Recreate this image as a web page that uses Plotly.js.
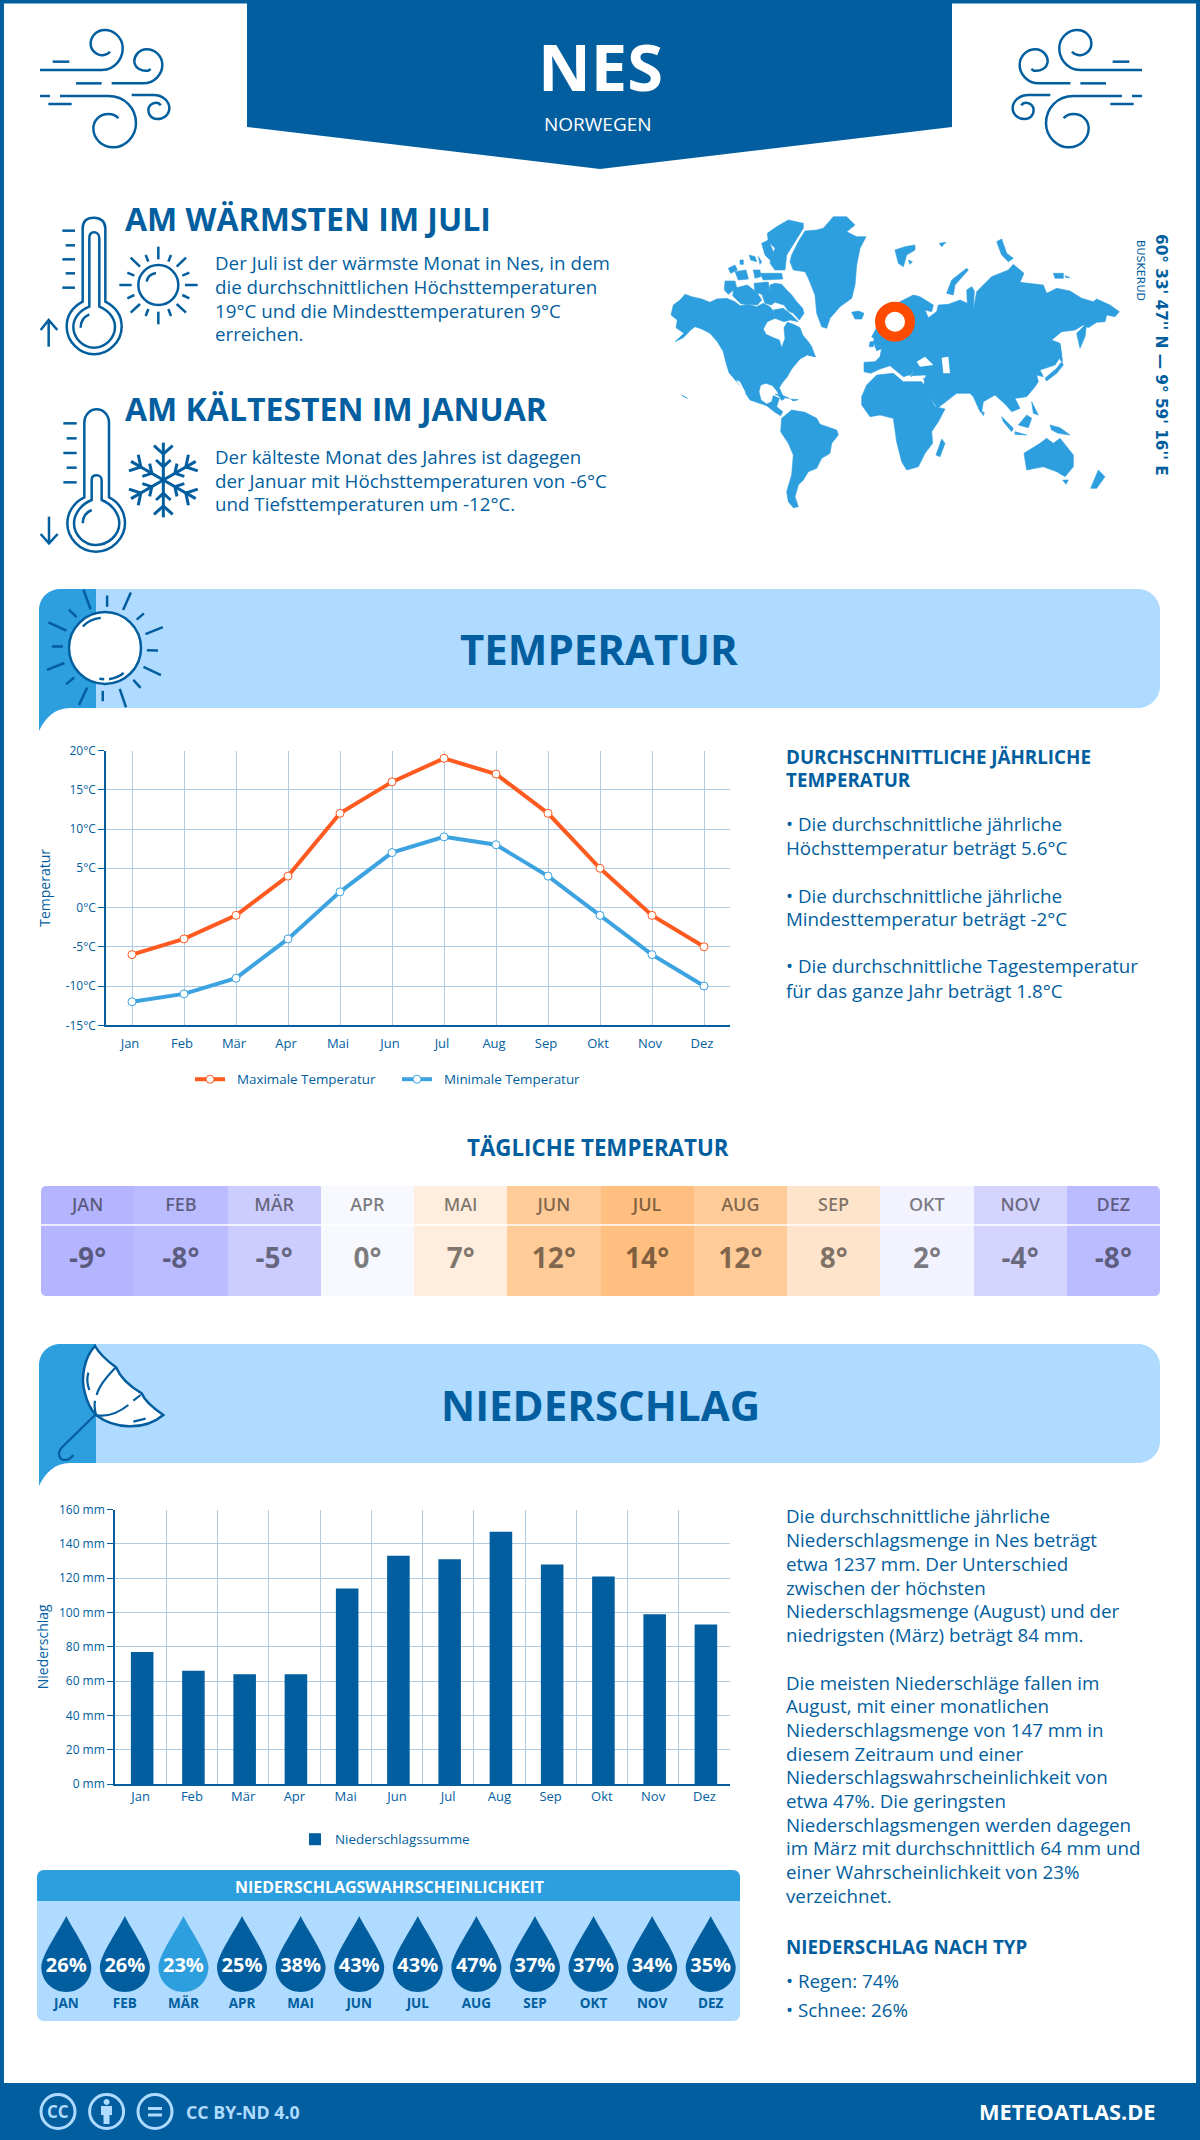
<!DOCTYPE html>
<html lang="de"><head><meta charset="utf-8"><title>Nes</title>
<script src="https://cdn.plot.ly/plotly-3.0.1.min.js"></script>
<style>html,body{margin:0;padding:0;background:#fff}#g{width:1200px;height:2140px}</style></head>
<body><div id="g"></div>
<script>
// ---------- data ----------
const months=['Jan','Feb','Mär','Apr','Mai','Jun','Jul','Aug','Sep','Okt','Nov','Dez'];
const monthCaps=['JAN','FEB','MÄR','APR','MAI','JUN','JUL','AUG','SEP','OKT','NOV','DEZ'];
const tempMax=[-6,-4,-1,4,12,16,19,17,12,5,-1,-5];
const tempMin=[-12,-11,-9,-4,2,7,9,8,4,-1,-6,-10];
const tempTicks=[20,15,10,5,0,-5,-10,-15];
const tempTickText=['20°C','15°C','10°C','5°C','0°C','-5°C','-10°C','-15°C'];
const dailyTemp=[-9,-8,-5,0,7,12,14,12,8,2,-4,-8];
const dailyStops=[-9,-8,-5,-4,0,2,7,8,12,14];
const dailyColors=['#b5b5ff','#bbbbff','#ccccff','#d4d4ff','#f8f9ff','#f3f3ff','#ffeedd','#ffe4cc','#ffcc99','#ffbf80'];
const precip=[77,66,64,64,114,133,131,147,128,121,99,93];
const precipTicks=[0,20,40,60,80,100,120,140,160];
const precipTickText=['0 mm','20 mm','40 mm','60 mm','80 mm','100 mm','120 mm','140 mm','160 mm'];
const rainProb=[26,26,23,25,38,43,43,47,37,37,34,35];

const warmText=['Der Juli ist der wärmste Monat in Nes, in dem','die durchschnittlichen Höchsttemperaturen','19°C und die Mindesttemperaturen 9°C','erreichen.'];
const coldText=['Der kälteste Monat des Jahres ist dagegen','der Januar mit Höchsttemperaturen von -6°C','und Tiefsttemperaturen um -12°C.'];
const tempInfo=['• Die durchschnittliche jährliche','Höchsttemperatur beträgt 5.6°C','• Die durchschnittliche jährliche','Mindesttemperatur beträgt -2°C','• Die durchschnittliche Tagestemperatur','für das ganze Jahr beträgt 1.8°C'];
const rainInfo1=['Die durchschnittliche jährliche','Niederschlagsmenge in Nes beträgt','etwa 1237 mm. Der Unterschied','zwischen der höchsten','Niederschlagsmenge (August) und der','niedrigsten (März) beträgt 84 mm.'];
const rainInfo2=['Die meisten Niederschläge fallen im','August, mit einer monatlichen','Niederschlagsmenge von 147 mm in','diesem Zeitraum und einer','Niederschlagswahrscheinlichkeit von','etwa 47%. Die geringsten','Niederschlagsmengen werden dagegen','im März mit durchschnittlich 64 mm und','einer Wahrscheinlichkeit von 23%','verzeichnet.'];

// ---------- style + helpers ----------
const W=1200,H=2140,NAVY='#025e9e',SKY='#2d9ede',PALE='#aedbff',ORANGE='#ff5a1f',FONT='"Open Sans", sans-serif';
const BODY=18.75;
const fx=x=>x/W, fy=y=>1-y/H;
const xf=(p,ox=0,sx=1,oy=0,sy=sx)=>p.replace(/(-?[\d.]+)[ ,]+(-?[\d.]+)/g,(m,a,b)=>`${fx(ox+a*sx).toFixed(5)},${fy(oy+b*sy).toFixed(5)}`);
const shapes=[],notes=[];
function S(path,o={}){shapes.push({type:'path',xref:'paper',yref:'paper',path:path,fillcolor:o.fill||'rgba(0,0,0,0)',
  line:{color:o.color||NAVY,width:o.width===undefined?(o.fill?0:2.5):o.width},layer:o.layer||'below'});}
function T(text,x,y,o={}){notes.push({xref:'paper',yref:'paper',x:fx(x),y:fy(y),text:text,showarrow:false,borderpad:0,
  xanchor:o.anchor||'left',yanchor:'middle',textangle:o.angle||0,
  font:{family:o.family||FONT,size:o.size||18,color:o.color||NAVY,weight:o.weight||400}});}
const circ=(x,y,r)=>{const k=r*.5523;return `M${x-r},${y} C${x-r},${y-k} ${x-k},${y-r} ${x},${y-r} C${x+k},${y-r} ${x+r},${y-k} ${x+r},${y} C${x+r},${y+k} ${x+k},${y+r} ${x},${y+r} C${x-k},${y+r} ${x-r},${y+k} ${x-r},${y} Z`;};
const poly=s=>'M'+s.trim().split(/\s+/).join(' L')+' Z';

// ---------- frame + header ----------
S(xf('M0,0 L1200,0 L1200,2140 L1196,2140 L1196,3.5 L4,3.5 L4,2140 L0,2140 Z'),{fill:NAVY});
S(xf('M247,0 L952,0 L952,127 L600,169 L247,127 Z'),{fill:NAVY});
S(xf('M0,2083 L1200,2083 L1200,2140 L0,2140 Z'),{fill:NAVY});
T('NES',600,66,{anchor:'center',size:65,weight:700,color:'#fff'});
T('NORWEGEN',598,124,{anchor:'center',size:19,color:'#fff'});

// wind icons
const wind=['M30,150 L215,150 C260,150 280,110 278,80 C275,50 250,30 225,30 C195,30 180,55 182,75 C185,95 205,110 222,105 C232,103 238,98 240,95',
'M68,125 L118,125','M138,190 L215,190','M245,190 L340,190 C375,190 397,160 397,135 C397,105 372,88 350,88 C325,88 312,110 313,125 C315,145 335,155 355,152 L362,147',
'M30,228 L60,228','M90,228 L235,228 C285,228 318,265 318,310 C318,350 285,382 250,382 C215,382 190,355 190,325 C190,300 210,282 235,282 C250,282 260,288 265,295',
'M55,252 L125,252','M305,225 L370,225 C400,225 418,245 418,265 C418,285 400,297 382,297 C365,297 355,285 355,270 C355,258 365,248 378,248 C385,248 390,252 392,256'];
wind.forEach(p=>{S(xf(p,30,1/3,20,1/3));S(xf(p,1182-30,-1/3,20,1/3));});

// warm block
T('AM WÄRMSTEN IM JULI',124,218.5,{size:32,weight:700});
warmText.forEach((t,i)=>T(t,214,262.5+i*23.8,{size:BODY}));
const z10=p=>xf(p,30,1/3,205,1/3);
['M158,290 L158,70 C158,48 172,38 192,38 C212,38 226,50 226,70 L226,290 C255,305 275,330 275,365 C275,410 235,448 192,448 C150,448 110,410 110,365 C110,330 130,305 158,290 Z',
'M178,305 L178,100 C178,85 185,82 192,82 C200,82 208,88 208,100 L208,305 C235,315 255,340 255,365 C255,400 225,428 192,428 C160,428 130,400 130,365 C130,340 150,315 178,305 Z',
'M152,368 C152,350 162,335 178,328','M97,77 L135,77','M107,121 L135,121','M97,163 L135,163','M107,205 L135,205','M97,248 L135,248',
'M56,425 L56,345','M32,375 L56,345 L82,375',
'M385,125 L385,163','M385,320 L385,358','M268,240 L305,240','M465,240 L503,240','M302,158 L330,185','M468,158 L440,185','M302,323 L330,297','M468,323 L440,297',
'M347,150 L355,170','M423,150 L415,170','M292,203 L313,212','M478,203 L457,212','M292,280 L313,270','M478,280 L457,270','M347,333 L355,312','M423,333 L415,312',
'M350,230 C352,215 362,207 378,204'].forEach(p=>S(z10(p)));
S(z10(circ(385,240,60)));

// cold block
T('AM KÄLTESTEN IM JANUAR',124,408.5,{size:32,weight:700});
coldText.forEach((t,i)=>T(t,214,456.5+i*23.7,{size:BODY}));
const z11=p=>xf(p,30,1/3,400,1/3);
['M163,292 L163,68 C163,45 180,28 200,28 C220,28 237,45 237,68 L237,292 C265,305 285,335 285,370 C285,415 245,455 198,455 C150,455 112,415 112,370 C112,335 135,305 163,292 Z',
'M185,300 L185,240 C185,230 192,226 200,226 C208,226 215,232 215,240 L215,300 C245,312 268,340 268,370 C268,405 235,435 198,435 C162,435 132,405 132,370 C132,340 155,312 185,300 Z',
'M158,370 C158,350 168,337 185,330','M100,70 L140,70','M110,115 L140,115','M100,159 L140,159','M110,203 L140,203','M100,247 L140,247',
'M57,350 L57,430','M32,402 L57,430 L83,402'].forEach(p=>S(z11(p)));
[0,60,120,180,240,300].forEach(deg=>{const a=deg*Math.PI/180,c=Math.cos(a),s=Math.sin(a);
  const r=(x,y)=>`${(400+x*c-y*s).toFixed(1)},${(240+x*s+y*c).toFixed(1)}`;
  S(z11(`M${r(0,0)} L${r(0,-112)}`),{width:3});
  S(z11(`M${r(-28,-103)} L${r(0,-78)} L${r(28,-103)}`),{width:3});
  S(z11(`M${r(-22,-60)} L${r(0,-40)} L${r(22,-60)}`),{width:3});
});

// ---------- world map (pictogram) ----------
const map7=[
'35,322 40,300 60,285 75,268 95,275 125,282 150,292 170,282 200,280 225,290 240,302 262,298 290,305 310,295 330,305 340,318 345,340 322,350 310,372 318,388 340,398 358,405 365,428 375,400 372,368 382,352 400,358 420,368 428,390 445,410 455,425 466,455 442,450 420,462 405,480 395,492 382,515 368,532 358,548 365,565 373,582 364,586 352,560 338,542 318,535 302,540 297,560 303,585 320,597 335,590 340,572 358,580 350,605 368,620 362,632 345,622 320,602 290,592 270,585 250,555 228,528 207,503 197,470 190,440 172,410 150,385 125,372 105,365 92,375 70,398 45,410 72,385 48,368 52,345 33,330',
'330,240 345,235 365,238 380,255 395,270 410,290 428,310 432,325 418,345 400,325 385,318 372,300 355,295 340,290 328,270',
'340,315 370,310 395,330 415,350 390,345 372,350 345,340',
'322,85 350,65 385,45 430,55 430,70 405,110 380,150 375,195 345,195 330,175 345,130 325,110',
'305,115 325,105 340,140 335,170 315,150','195,228 225,228 230,248 205,268 193,255','222,250 262,240 290,262 305,285 292,300 242,296 218,272',
'282,235 322,232 322,262 305,268 285,262','310,232 325,232 330,270 345,290 335,300 315,295 305,265','205,190 225,180 232,195 212,205','225,200 258,195 265,222 235,225','280,195 300,195 302,215 285,220','300,205 365,205 368,222 310,225',
'268,150 285,155 290,170 272,165','295,155 305,170 300,178','240,165 250,165 250,178 240,178',
'395,150 415,110 435,78 470,75 490,70 520,35 560,35 585,60 560,80 590,95 618,95 600,130 590,180 585,240 575,280 540,305 510,340 500,370 485,365 470,325 465,270 445,220 435,200 400,195 390,170',
'575,322 595,318 612,325 605,342 585,342','345,568 365,570 388,580 370,578','392,582 415,584 400,588','445,432 466,455 448,450',
'365,640 395,615 435,622 470,640 480,658 530,675 535,690 515,715 510,745 485,760 470,790 445,800 430,825 415,840 405,875 415,905 400,908 385,890 380,860 395,810 400,750 385,715 362,680',
'648,385 668,430 650,437 640,410','630,410 642,410 640,425 628,425','65,570 82,580 72,575'];
map7.forEach(p=>S(xf(poly(p),660,1/3,205,1/3),{fill:SKY,color:SKY,width:.6}));
const map8=[
// Eurasia
'100,270 120,275 160,300 155,320 135,315 145,338 170,320 175,300 205,298 240,285 262,295 260,255 275,245 283,258 280,315 290,260 310,240 335,215 385,195 400,178 432,205 420,232 490,240 500,265 530,250 570,258 605,280 640,290 650,282 690,300 718,320 705,335 680,330 675,350 650,352 625,368 610,360 585,375 545,380 515,405 540,415 545,450 525,480 480,495 490,515 470,510 475,530 465,545 440,575 405,580 420,610 395,620 378,600 345,570 310,590 305,622 300,620 280,575 270,565 230,565 172,610 130,545 138,510 92,512 100,495 95,515 60,485 88,510 70,515 30,482 0,492 -28,505 -48,500 -48,472 -15,470 0,455 5,430 -5,410 -25,395 0,350 40,300',
// Africa
'-55,575 -40,540 -10,510 40,505 70,530 125,530 135,545 165,605 195,612 175,650 155,680 158,715 135,745 115,785 80,795 65,770 50,710 40,640 0,630 -30,635 -55,600',
'185,702 195,715 180,755 168,750','432,745 480,715 500,700 520,715 540,700 580,750 580,785 555,815 530,800 490,785 440,795','548,825 565,825 558,838','655,795 675,815 650,850 632,850',
'510,660 540,668 570,690 535,685 515,675','415,660 440,630 455,640 445,668','365,635 400,670 395,680 370,650','405,680 440,690 405,688','455,590 475,630 460,625','495,520 530,490 545,470 550,480 530,505 500,528',
'540,420 548,470 540,465','620,355 590,385 600,430 615,395','303,620 313,622 310,632','200,265 215,225 260,190 265,195 225,240 220,270','45,135 75,125 105,120 105,135 80,150 70,185 55,175',
'178,115 198,112 185,125','350,110 365,102 380,145 400,160 385,170 365,150','520,205 550,205 550,220 525,220','555,212 570,218 558,218','85,165 97,170 90,178','130,520 140,520 135,530'];
map8.forEach(p=>S(xf(poly(p),880,1/3,205,1/3),{fill:SKY,color:SKY,width:.6}));
['110,470 135,455 160,480 120,485','185,458 205,455 210,505 190,505'].forEach(p=>S(xf(poly(p),880,1/3,205,1/3),{fill:'#fff'}));
S(xf('M228,525 L240,530 L258,565 L250,560 Z',660,1/3,205,1/3),{fill:'#fff'});
S(xf(circ(895,321.7,15)),{color:'#ff4b00',width:10,fill:'#fff'});
T("60° 33' 47'' N — 9° 59' 16'' E",1161,355,{anchor:'center',size:15.3,weight:700,angle:90,family:'"DejaVu Sans", sans-serif'});
T('BUSKERUD',1140,270,{anchor:'center',size:11,angle:90,family:'"DejaVu Sans", sans-serif'});

// ---------- section banners ----------
function banner(t){
  S(xf(`M96,${t} L1138,${t} C1150,${t} 1160,${t+10} 1160,${t+22} L1160,${t+97} C1160,${t+109} 1150,${t+119} 1138,${t+119} L96,${t+119} Z`),{fill:PALE});
  S(xf(`M39,${t+142} L39,${t+22} C39,${t+8} 49,${t} 61,${t} L96,${t} L96,${t+119} L70,${t+119} C55,${t+119} 45,${t+129} 39,${t+142} Z`),{fill:SKY});
}
banner(589);banner(1344);
T('TEMPERATUR',599,648,{anchor:'center',size:42,weight:700});
T('NIEDERSCHLAG',600,1404,{anchor:'center',size:42,weight:700});
const z2=p=>xf(p,0,.4847,580,.3444);
S(xf(circ(105,648,36)),{fill:'#fff',color:NAVY,width:2.5});
['M172,28 L187,85','M221,45 L221,78','M270,36 L254,87','M297,97 L282,115','M336,137 L300,157','M303,204 L326,205','M296,252 L332,276','M275,290 L290,313','M247,316 L260,370','M212,322 L212,352','M180,312 L163,363','M153,283 L136,303','M133,241 L97,261','M130,193 L107,193','M137,147 L100,123','M158,108 L142,86',
'M171,135 C180,120 195,112 208,110','M205,287 L215,288','M225,288 C238,285 248,280 255,270'].forEach(p=>S(z2(p)));
const z12=p=>xf(p,30,1/3,1340,1/3);
S(z12('M195,18 C165,50 150,110 165,160 C172,190 185,212 198,225 C250,265 340,275 400,225 C370,205 345,185 335,160 C300,140 270,110 258,82 C235,65 210,45 195,18 Z'),{fill:'#fff',color:NAVY,width:2.5});
['M258,82 C225,115 205,145 200,165','M195,182 C192,195 195,212 198,225','M198,225 C235,232 270,215 295,195','M310,182 L332,165','M310,245 L347,236','M175,98 C170,115 172,135 178,150','M195,225 L100,318 C80,335 85,360 105,360 C115,360 125,352 130,345'].forEach(p=>S(z12(p),{width:2.2}));

// ---------- right-hand text ----------
T('DURCHSCHNITTLICHE JÄHRLICHE',785,757,{size:18.8,weight:700});
T('TEMPERATUR',785,780,{size:18.8,weight:700});
tempInfo.forEach((t,i)=>T(t,785,[824,847.5,895,919,966,990][i],{size:BODY}));
rainInfo1.forEach((t,i)=>T(t,785,1516+i*23.7,{size:BODY}));
rainInfo2.forEach((t,i)=>T(t,785,1682+i*23.7,{size:BODY}));
T('NIEDERSCHLAG NACH TYP',785,1947,{size:18.8,weight:700});
T('• Regen: 74%',785,1980,{size:BODY});
T('• Schnee: 26%',785,2009,{size:BODY});

// ---------- daily table + probability panel ----------
T('TÄGLICHE TEMPERATUR',598,1147,{anchor:'center',size:22.3,weight:700});
S(xf('M41,1225 L1160,1225'),{color:'#fff',width:1.5,layer:'above'});
[['M41,1186 L47,1186 C43,1186 41,1188 41,1192 Z'],['M1160,1186 L1154,1186 C1158,1186 1160,1188 1160,1192 Z'],['M41,1296 L47,1296 C43,1296 41,1294 41,1290 Z'],['M1160,1296 L1154,1296 C1158,1296 1160,1294 1160,1290 Z']].forEach(p=>S(xf(p[0]),{fill:'#fff',layer:'above'}));
S(xf('M37,1901 L37,1877 C37,1873 40,1870 44,1870 L733,1870 C737,1870 740,1873 740,1877 L740,1901 Z'),{fill:SKY});
S(xf('M37,1901 L740,1901 L740,2014 C740,2018 737,2021 733,2021 L44,2021 C40,2021 37,2018 37,2014 Z'),{fill:PALE});
T('NIEDERSCHLAGSWAHRSCHEINLICHKEIT',389,1887,{anchor:'center',size:16,weight:700,color:'#fff'});
const lowest=Math.min(...rainProb);
rainProb.forEach((p,i)=>shapes.push({type:'path',xref:'x4',yref:'y4',xsizemode:'pixel',ysizemode:'pixel',xanchor:monthCaps[i],yanchor:.45,layer:'between',
  path:'M0,51 C5,40 25,12 25,0 C25,-14 14,-25 0,-25 C-14,-25 -25,-14 -25,0 C-25,12 -5,40 0,51 Z',fillcolor:p===lowest?SKY:NAVY,line:{width:0}}));

// ---------- footer ----------
[58,106.6,155].forEach(x=>S(xf(circ(x,2111.5,17)),{color:PALE,width:3}));
T('CC',58,2111.5,{anchor:'center',size:17,weight:700,color:PALE});
S(xf(circ(106.6,2102,3)),{fill:PALE});
S(xf('M101,2106 L112,2106 L112,2115 L109.5,2115 L109.5,2124 L103.5,2124 L103.5,2115 L101,2115 Z'),{fill:PALE});
S(xf('M148,2107 L162,2107 L162,2110 L148,2110 Z M148,2113.5 L162,2113.5 L162,2116.5 L148,2116.5 Z'),{fill:PALE});
T('CC BY-ND 4.0',185,2111.5,{size:17.8,weight:700,color:PALE});
T('METEOATLAS.DE',1157,2111.5,{anchor:'right',size:21.8,weight:700,color:'#fff'});

// ---------- traces ----------
const tickFont={family:FONT,size:12,color:NAVY};
const monthFont={family:FONT,size:13,color:NAVY};
const mk=(name,vals,col,leg)=>({type:'scatter',mode:'lines+markers',name:'\u00a0\u00a0'+name,x:months,y:vals,xaxis:'x',yaxis:'y',legend:leg,
  line:{color:col,width:4},marker:{size:8,color:'#fff',line:{color:col,width:1}},hoverinfo:'x+y'});
const data=[
 mk('Maximale Temperatur',tempMax,ORANGE,'legend'),
 mk('Minimale Temperatur',tempMin,'#3ca3e0','legend3'),
 {type:'bar',name:'Niederschlagssumme',x:months,y:precip,xaxis:'x2',yaxis:'y2',legend:'legend2',width:.44,offset:-.19,marker:{color:NAVY}},
 {type:'heatmap',x:monthCaps,y:[.5],z:[dailyTemp],xaxis:'x3',yaxis:'y3',zmin:-9,zmax:14,showscale:false,hoverinfo:'skip',
  colorscale:dailyStops.map((v,i)=>[(v+9)/23,dailyColors[i]])},
 {type:'scatter',mode:'text',x:monthCaps,y:monthCaps.map(()=>.818),text:monthCaps,xaxis:'x3',yaxis:'y3',showlegend:false,hoverinfo:'skip',
  textposition:'middle center',textfont:{family:FONT,size:18,weight:600,color:'rgba(0,0,0,.5)'}},
 {type:'scatter',mode:'text',x:monthCaps,y:monthCaps.map(()=>.318),text:dailyTemp.map(v=>v+'°'),xaxis:'x3',yaxis:'y3',showlegend:false,hoverinfo:'skip',
  textposition:'middle center',textfont:{family:FONT,size:28,weight:700,color:'rgba(0,0,0,.5)'}},
 {type:'scatter',mode:'text',x:monthCaps,y:monthCaps.map(()=>.45),text:rainProb.map(v=>v+'%'),xaxis:'x4',yaxis:'y4',showlegend:false,hoverinfo:'skip',
  textposition:'middle center',textfont:{family:FONT,size:20,weight:700,color:'#fff'}},
 {type:'scatter',mode:'text',x:monthCaps,y:monthCaps.map(()=>.133),text:monthCaps,xaxis:'x4',yaxis:'y4',showlegend:false,hoverinfo:'skip',
  textposition:'middle center',textfont:{family:FONT,size:13.5,weight:700,color:NAVY}}
];
const GRID='#aecbe2';
const hidden=(l,r)=>({domain:[fx(l),fx(r)],visible:false,type:'category',range:[-.5,11.5],fixedrange:true});
const hiddenY=(t,b)=>({domain:[fy(b),fy(t)],visible:false,range:[0,1],fixedrange:true});
const legendBase=(x,y)=>({orientation:'h',xref:'paper',yref:'paper',x:fx(x),y:fy(y),xanchor:'left',yanchor:'top',font:{family:FONT,size:13.4,color:NAVY},itemclick:false,itemdoubleclick:false,bgcolor:'rgba(0,0,0,0)'});
const layout={width:W,height:H,margin:{l:0,r:0,t:0,b:0,pad:0},paper_bgcolor:'#fff',plot_bgcolor:'rgba(0,0,0,0)',font:{family:FONT,color:NAVY},
 hovermode:'closest',shapes:shapes,annotations:notes,showlegend:true,
 xaxis:{domain:[fx(106),fx(730)],type:'category',range:[-.5,11.5],anchor:'y',showgrid:true,gridcolor:GRID,gridwidth:1,showline:true,linecolor:NAVY,linewidth:1.5,
   ticks:'outside',ticklen:5,tickcolor:'rgba(0,0,0,0)',tickfont:monthFont,ticklabelshift:-2,fixedrange:true},
 yaxis:{domain:[fy(1025.3),fy(750.5)],range:[-15,20],anchor:'x',tickvals:tempTicks,ticktext:tempTickText,showgrid:true,gridcolor:GRID,zeroline:false,showline:true,linecolor:NAVY,linewidth:1.5,
   ticks:'outside',ticklen:6,tickcolor:NAVY,tickfont:tickFont,title:{text:'Temperatur',font:{family:FONT,size:14,color:NAVY},standoff:12},fixedrange:true},
 xaxis2:{domain:[fx(115),fx(730)],type:'category',range:[-.5,11.5],anchor:'y2',tickson:'boundaries',showgrid:true,gridcolor:GRID,showline:true,linecolor:NAVY,linewidth:1.5,
   ticks:'outside',ticklen:5,tickcolor:'rgba(0,0,0,0)',tickfont:monthFont,fixedrange:true},
 yaxis2:{domain:[fy(1784),fy(1509.5)],range:[0,160],anchor:'x2',tickvals:precipTicks,ticktext:precipTickText,showgrid:true,gridcolor:GRID,zeroline:false,showline:true,linecolor:NAVY,linewidth:1.5,
   ticks:'outside',ticklen:6,tickcolor:NAVY,tickfont:tickFont,title:{text:'Niederschlag',font:{family:FONT,size:14,color:NAVY},standoff:7},fixedrange:true},
 xaxis3:hidden(41,1160),yaxis3:hiddenY(1186,1296),
 xaxis4:hidden(37,740),yaxis4:hiddenY(1901,2021),
 legend:legendBase(190,1064),
 legend3:legendBase(397,1064),
 legend2:legendBase(295,1824)
};
Plotly.newPlot('g',data,layout,{displayModeBar:false,responsive:false});
</script></body></html>
